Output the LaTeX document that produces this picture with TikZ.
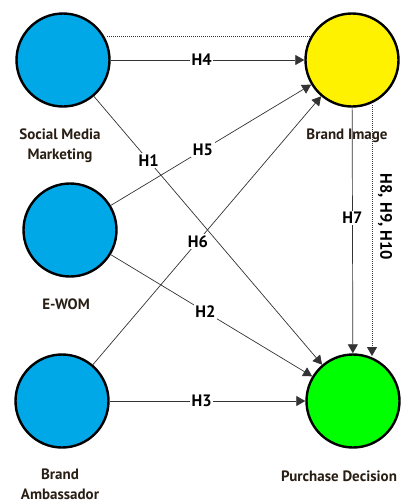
\documentclass[tikz,border=0pt]{standalone}
\usepackage{fontspec}
\setmainfont{PT Sans}
\usetikzlibrary{arrows.meta}

\definecolor{smblue}{RGB}{0,168,232}
\definecolor{bilabel}{RGB}{40,30,20}

\begin{document}
\begin{tikzpicture}[x=1pt, y=-1pt,
   construct/.style={draw, circle, line width=2.4pt, minimum size=93pt, inner sep=0pt},
   caption/.style={font=\bfseries\fontsize{15}{20}\selectfont, text=bilabel, align=center, inner sep=1pt},
   path/.style={draw=black!80, line width=0.7pt, -{Triangle[length=9pt, width=10pt]}},
   hyp/.style={fill=white, inner sep=1.5pt, font=\bfseries\fontsize{16.5}{18}\selectfont}]

\useasboundingbox (0,0) rectangle (411,504);

% constructs
\node[construct, fill=smblue] (smm) at (63,60) {};
\node[construct, fill=smblue] (ewom) at (70,230) {};
\node[construct, fill=smblue] (ba) at (62,401) {};
\node[construct, fill=yellow] (bi) at (352,60) {};
\node[construct, fill=green] (pd) at (353,401) {};

% captions
\node[caption] (smmtext) at (60,146) {Social Media\\Marketing};
\node[caption] (ewomtext) at (66,304) {E-WOM};
\node[caption] (batext) at (60,484) {Brand\\Ambassador};
\node[caption] (bitext) at (347,136) {Brand Image};
\node[caption, anchor=west] (pdtext) at (280,476) {Purchase Decision};

% mediation (dotted)
\coordinate (smmtop) at (107,36);
\coordinate (bitop) at (310,36);
\coordinate (bibot) at (372,105);
\coordinate (pdtop) at (372,356);
\draw[black!80, line width=0.8pt, dash pattern=on 1.2pt off 0.8pt] (smmtop) -- (bitop);
\draw[path, line width=0.8pt, dash pattern=on 1.2pt off 0.8pt] (bibot) -- (pdtop);
\node[rotate=-90, font=\bfseries\fontsize{16.5}{18}\selectfont] (medtext) at (385,217) {H8, H9, H10};

% direct paths
\draw[path] (smm) -- node[hyp, pos=0.47] {H4} (bi);
\draw[path] (ba) -- node[hyp, pos=0.47] {H3} (pd);
\draw[path] (smm) -- node[hyp, pos=0.24] {H1} (pd);
\draw[path] (ewom) -- node[hyp, pos=0.46] {H5} (bi);
\draw[path] (ewom) -- node[hyp, pos=0.47] {H2} (pd);
\draw[path] (ba) -- node[hyp, pos=0.46] {H6} (bi);
\draw[path] (bi) -- node[hyp, pos=0.45] {H7} (pd);

\end{tikzpicture}
\end{document}
